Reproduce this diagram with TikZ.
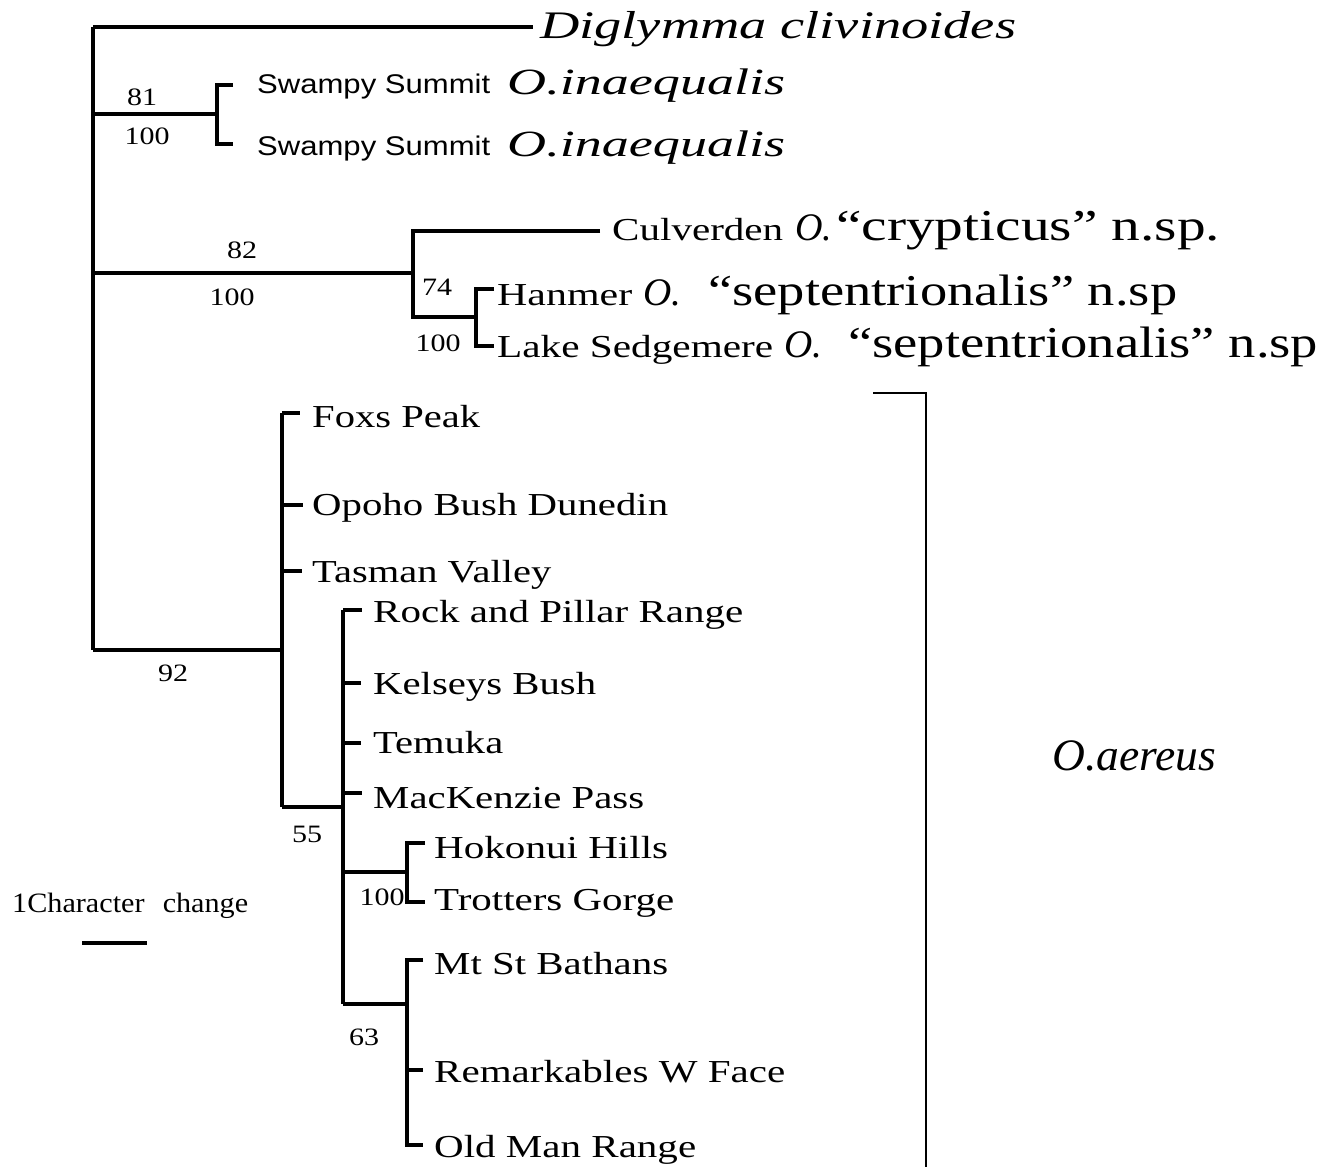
\documentclass[tikz,border=0pt]{standalone}
\usepackage{fontspec}
\setmainfont{Liberation Serif}
\newfontfamily\arialf{Liberation Sans}
\usepackage{graphicx}
\newcommand\fitw[2]{\resizebox{#1pt}{\height}{#2}}
\newcommand\sxn[1]{\scalebox{1.2}[1]{#1}}
\begin{document}
\begin{tikzpicture}[x=1pt,y=-1pt,
  br/.style={line width=3.3pt,line cap=butt,line join=miter},
  lab/.style={anchor=base west,inner sep=0pt,font=\fontsize{32}{36}\selectfont},
  big/.style={anchor=base west,inner sep=0pt,font=\fontsize{44}{46}\selectfont},
  bigit/.style={anchor=base west,inner sep=0pt,font=\fontsize{39}{42}\selectfont\itshape},
  num/.style={inner sep=0pt,font=\fontsize{25}{28}\selectfont},
]
\useasboundingbox[fill=white] (0,0) rectangle (1325,1167);

% ---------- root ----------
\coordinate (r0) at (93,27);
\coordinate (r1) at (93,650);
\draw[br] (r0) -- (r1);

% ---------- Diglymma ----------
\node[anchor=base west,inner sep=0pt,font=\fontsize{39}{42}\selectfont\itshape] (dig) at (540,38) {\fitw{476}{Diglymma clivinoides}};
\coordinate (digend) at (533,27);
\draw[br] (r0) -- (digend);

% ---------- Swampy Summit ----------
\coordinate (sw) at (93,114);
\coordinate (swn) at (217,114);
\coordinate (sw1) at (217,85);
\coordinate (sw1e) at (233,85);
\coordinate (sw2) at (217,144);
\coordinate (sw2e) at (233,144);
\draw[br] (sw) -- (swn);
\draw[br] (sw1e) -- (sw1) -- (sw2) -- (sw2e);
\node[anchor=base west,inner sep=0pt,font=\arialf\fontsize{27}{30}\selectfont] (swa) at (257,93) {\fitw{233}{Swampy Summit}};
\node[anchor=base west,inner sep=0pt,font=\fontsize{37}{40}\selectfont\itshape] (swai) at (507,94) {\fitw{278}{O.inaequalis}};
\node[anchor=base west,inner sep=0pt,font=\arialf\fontsize{27}{30}\selectfont] (swb) at (257,155) {\fitw{233}{Swampy Summit}};
\node[anchor=base west,inner sep=0pt,font=\fontsize{37}{40}\selectfont\itshape] (swbi) at (507,156) {\fitw{278}{O.inaequalis}};
\node[num] (b81) at (142,97) {\sxn{81}};
\node[num] (b81b) at (147,136) {\sxn{100}};

% ---------- crypticus / septentrionalis ----------
\coordinate (c82) at (93,273);
\coordinate (n82) at (413,273);
\coordinate (n82t) at (413,231);
\coordinate (culend) at (600,231);
\coordinate (n82b) at (413,317);
\coordinate (n74) at (476,317);
\coordinate (h1) at (476,289);
\coordinate (h1e) at (494,289);
\coordinate (h2) at (476,346);
\coordinate (h2e) at (494,346);
\draw[br] (c82) -- (n82);
\draw[br] (culend) -- (n82t) -- (n82b) -- (n74);
\draw[br] (h1e) -- (h1) -- (h2) -- (h2e);
\node[num] (b82) at (242,250) {\sxn{82}};
\node[num] (b82b) at (232,297) {\sxn{100}};
\node[num] (b74) at (437,287) {\sxn{74}};
\node[num] (b74b) at (438,343) {\sxn{100}};

\node[lab] (cul) at (612,240) {\fitw{171}{Culverden}};
\node[bigit] (culo) at (795,240) {\fitw{37}{O.}};
\node[big] (culc) at (836,240) {\fitw{384}{“crypticus” n.sp.}};
\node[lab] (han) at (497,305) {\fitw{135}{Hanmer}};
\node[bigit] (hano) at (643,305) {\fitw{38}{O.}};
\node[big] (hans) at (708,305) {\fitw{469}{“septentrionalis” n.sp}};
\node[lab] (lak) at (497,357) {\fitw{276}{Lake Sedgemere}};
\node[bigit] (lako) at (784,357) {\fitw{38}{O.}};
\node[big] (laks) at (848,357) {\fitw{470}{“septentrionalis” n.sp}};

% ---------- aereus clade ----------
\coordinate (a0) at (93,650);
\coordinate (na) at (282,650);
\coordinate (nat) at (282,413);
\coordinate (nab) at (282,807);
\draw[br] (a0) -- (na);
\draw[br] (nat) -- (nab);
\coordinate (tfox) at (300,413);
\coordinate (topo) at (303,505);
\coordinate (ttas) at (302,571);
\draw[br] (nat) -- (tfox);
\draw[br] (282,505) coordinate (nopo) -- (topo);
\draw[br] (282,571) coordinate (ntas) -- (ttas);
\coordinate (n55) at (343,807);
\draw[br] (nab) -- (n55);
\coordinate (n55t) at (343,610);
\coordinate (n55b) at (343,1004);
\draw[br] (n55t) -- (n55b);
\draw[br] (n55t) -- (362,610) coordinate (trock);
\draw[br] (343,683) coordinate (nkel) -- (361,683) coordinate (tkel);
\draw[br] (343,743) coordinate (ntem) -- (361,743) coordinate (ttem);
\draw[br] (343,793) coordinate (nmac) -- (362,793) coordinate (tmac);
% Hokonui
\coordinate (nhk) at (343,872);
\coordinate (hk) at (407,872);
\coordinate (hk1) at (407,843);
\coordinate (hk2) at (407,902);
\draw[br] (nhk) -- (hk);
\draw[br] (425,843) coordinate (hk1e) -- (hk1) -- (hk2) -- (425,902) coordinate (hk2e);
% Mt St Bathans
\coordinate (ms) at (407,1004);
\coordinate (ms1) at (407,960);
\coordinate (ms3) at (407,1145);
\draw[br] (n55b) -- (ms);
\draw[br] (423,960) coordinate (ms1e) -- (ms1) -- (ms3) -- (423,1145) coordinate (ms3e);
\draw[br] (407,1070) coordinate (ms2) -- (423,1070) coordinate (ms2e);

\node[num] (b92) at (173,673) {\sxn{92}};
\node[num] (b55) at (307,834) {\sxn{55}};
\node[num] (b100h) at (382,897) {\sxn{100}};
\node[num] (b63) at (364,1037) {\sxn{63}};

\node[lab] (fox) at (312,427) {\fitw{168}{Foxs Peak}};
\node[lab] (opo) at (312,515) {\fitw{356}{Opoho Bush Dunedin}};
\node[lab] (tas) at (312,582) {\fitw{239}{Tasman Valley}};
\node[lab] (roc) at (373,622) {\fitw{370}{Rock and Pillar Range}};
\node[lab] (kel) at (373,694) {\fitw{223}{Kelseys Bush}};
\node[lab] (tem) at (373,753) {\fitw{130}{Temuka}};
\node[lab] (mac) at (373,808) {\fitw{271}{MacKenzie Pass}};
\node[lab] (hok) at (434,858) {\fitw{234}{Hokonui Hills}};
\node[lab] (tro) at (434,910) {\fitw{240}{Trotters Gorge}};
\node[lab] (mts) at (434,974) {\fitw{234}{Mt St Bathans}};
\node[lab] (rem) at (434,1082) {\fitw{351}{Remarkables W Face}};
\node[lab] (old) at (434,1157) {\fitw{262}{Old Man Range}};

% ---------- O. aereus bracket ----------
\coordinate (bk0) at (873,393);
\coordinate (bk1) at (926,393);
\coordinate (bk2) at (926,1167);
\draw[line width=1.4pt] (bk0) -- (bk1) -- (bk2);
\node[anchor=base west,inner sep=0pt,font=\fontsize{45}{48}\selectfont\itshape] (aer) at (1052,770) {\fitw{164}{O.aereus}};

% ---------- scale ----------
\node[anchor=base west,inner sep=0pt,font=\fontsize{28}{30}\selectfont] (scl) at (12,912) {\fitw{236}{1Character\hspace{0.6em}change}};
\coordinate (sb1) at (82,943);
\coordinate (sb2) at (147,943);
\draw[line width=4pt] (sb1) -- (sb2);
\end{tikzpicture}
\end{document}
